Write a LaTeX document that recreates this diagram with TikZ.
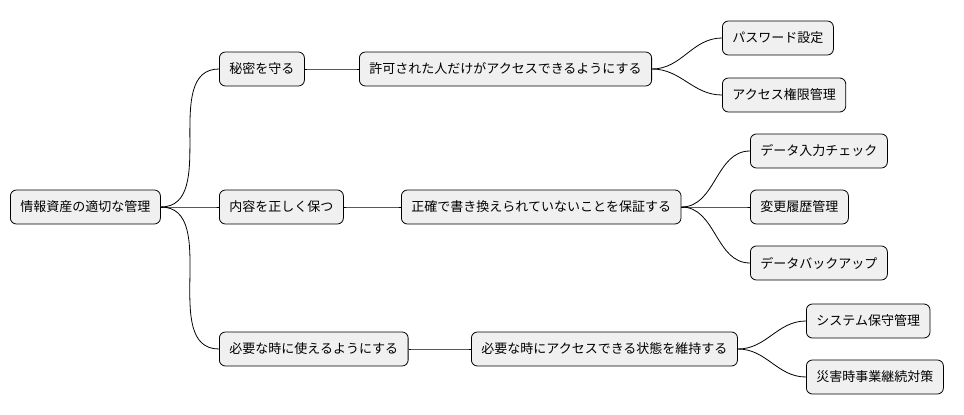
\documentclass[tikz,border=0pt]{standalone}
\usepackage{fontspec}
\setmainfont{Noto Sans CJK JP}
\begin{document}
\begin{tikzpicture}[x=1pt,y=-1pt,
  topic/.style={draw,fill=black!6,rounded corners=6pt,line width=0.8pt,
    minimum height=34pt,inner xsep=10pt,anchor=west,font=\fontsize{13pt}{15pt}\selectfont},
  link/.style={line width=0.8pt}]
\useasboundingbox (0,0) rectangle (964,415);
% Root and branches
\node[topic] (root) at (10,207) {情報資産の適切な管理};
\node[topic] (secret) at (219,69) {秘密を守る};
\node[topic] (integ) at (219,207) {内容を正しく保つ};
\node[topic] (avail) at (219,349) {必要な時に使えるようにする};
\node[topic] (access) at (359,69) {許可された人だけがアクセスできるようにする};
\node[topic] (correct) at (401,207) {正確で書き換えられていないことを保証する};
\node[topic] (keep) at (471,349) {必要な時にアクセスできる状態を維持する};
% Leaves
\node[topic] (pass) at (722,38) {パスワード設定};
\node[topic] (perm) at (722,95) {アクセス権限管理};
\node[topic] (check) at (750,151) {データ入力チェック};
\node[topic] (hist) at (750,207) {変更履歴管理};
\node[topic] (backup) at (750,263) {データバックアップ};
\node[topic] (maint) at (806,321) {システム保守管理};
\node[topic] (bcp) at (806,377) {災害時事業継続対策};
% Links
\foreach \p/\c in {root/secret,root/integ,root/avail,secret/access,integ/correct,
  avail/keep,access/pass,access/perm,correct/check,correct/hist,correct/backup,
  keep/maint,keep/bcp}
  \draw[link] (\p.east) to[out=0,in=180] (\c.west);
\end{tikzpicture}
\end{document}
